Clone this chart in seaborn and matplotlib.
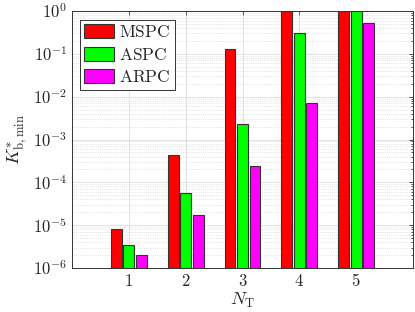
import matplotlib
matplotlib.use("Agg")
import matplotlib.pyplot as plt
import seaborn as sns
import pandas as pd
import numpy as np
from matplotlib.ticker import LogLocator, NullFormatter

categories = ["1", "2", "3", "4", "5"]
series_names = ["MSPC", "ASPC", "ARPC"]
mspc = [8.3e-6, 4.4e-4, 0.131, 1.0, 1.0]
aspc = [3.5e-6, 5.6e-5, 2.24e-3, 0.30, 1.0]
arpc = [2.0e-6, 1.73e-5, 2.4e-4, 7.3e-3, 0.52]
colors = ["#ff0000", "#00ff00", "#ff00ff"]

rows = []
for name, vals in zip(series_names, [mspc, aspc, arpc]):
    for c, v in zip(categories, vals):
        rows.append({"NT": c, "series": name, "value": v})
df = pd.DataFrame(rows)

sns.set_style("white")
plt.rcParams["mathtext.fontset"] = "cm"
plt.rcParams["font.family"] = ["DejaVu Serif"]

fig = plt.figure(figsize=(4.15, 3.12), dpi=100)
ax = fig.add_axes([72/415, 1-268/312, (413-72)/415, (268-11)/312])

sns.barplot(data=df, x="NT", y="value", hue="series", palette=colors, saturation=1,
            width=0.66, gap=0.136, edgecolor="#333333", linewidth=0.8,
            ax=ax, legend=True, errorbar=None)

ax.set_yscale("log")
ax.set_ylim(1e-6, 1)
ax.set_xlim(-1, 5)
ax.set_yticks([10.0**k for k in range(-6, 1)])
ax.set_yticklabels([r"$10^{%d}$" % k for k in range(-6, 1)], fontsize=12)
ax.yaxis.set_minor_locator(LogLocator(base=10, subs=np.arange(2, 10), numticks=20))
ax.yaxis.set_minor_formatter(NullFormatter())
ax.set_xticks(range(5))
ax.set_xticklabels([r"$%s$" % c for c in categories], fontsize=12)

ax.grid(True, which="major", axis="both", color="#dddddd", linewidth=0.6, linestyle="-")
ax.grid(True, which="minor", axis="y", color="#d0d0d0", linewidth=0.5, linestyle=":")
ax.set_axisbelow(True)

ax.tick_params(which="both", direction="in", top=True, right=True, length=3, width=0.6, color="#333333")
ax.tick_params(which="minor", length=1.8)
for s in ax.spines.values():
    s.set_color("#333333")
    s.set_linewidth(0.7)

ax.set_xlabel(r"$N_{\mathrm{T}}$", fontsize=13, labelpad=1)
ax.set_ylabel(r"$K^{*}_{\mathrm{b,min}}$", fontsize=13, labelpad=2)

leg = ax.legend(loc="upper left", bbox_to_anchor=(0.008, 0.985), frameon=True, fancybox=False,
                edgecolor="#333333", framealpha=1, borderpad=0.25, handlelength=1.7,
                handleheight=0.85, handletextpad=0.3, labelspacing=0.3, borderaxespad=0.3,
                prop={"size": 12.5})
leg.get_frame().set_linewidth(0.7)
for t, n in zip(leg.get_texts(), series_names):
    t.set_text(r"$\mathrm{%s}$" % n)

fig.savefig("out.png", dpi=100)
